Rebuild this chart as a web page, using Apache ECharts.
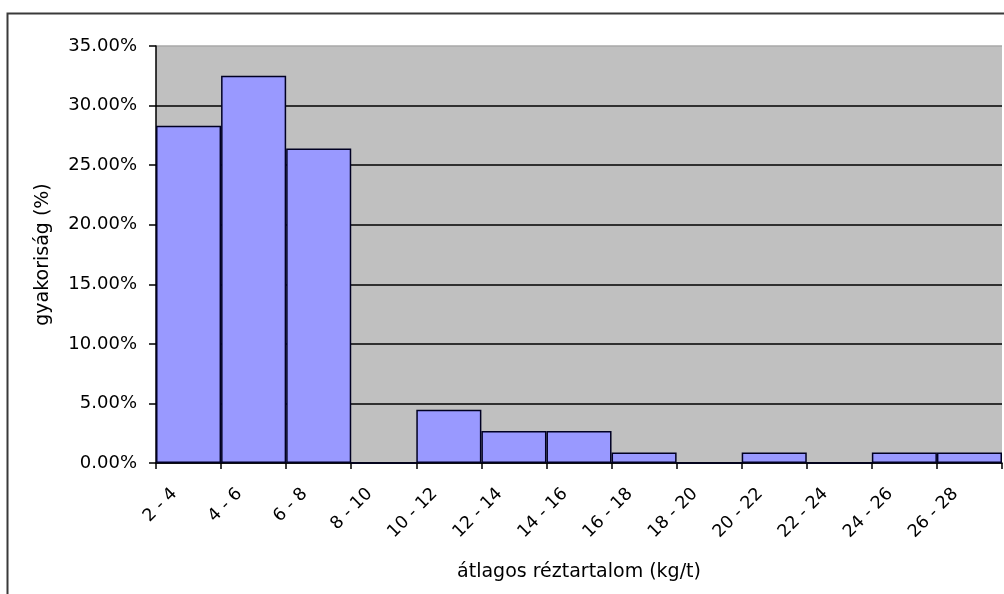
<!DOCTYPE html>
<html>
<head>
<meta charset="utf-8">
<script src="https://cdn.jsdelivr.net/npm/echarts@6/dist/echarts.min.js"></script>
<style>
html,body{margin:0;padding:0;background:#fff;}
#chart{width:1004px;height:594px;}
</style>
</head>
<body>
<div id="chart"></div>
<script>
const categories = ['2 - 4','4 - 6','6 - 8','8 - 10','10 - 12','12 - 14','14 - 16','16 - 18','18 - 20','20 - 22','22 - 24','24 - 26','26 - 28'];
const frequency = [28.30, 32.50, 26.40, 0, 4.46, 2.68, 2.68, 0.89, 0, 0.89, 0, 0.89, 0.89];
const yTicks = [0, 5, 10, 15, 20, 25, 30, 35];
const xTitle = 'átlagos réztartalom (kg/t)';
const yTitle = 'gyakoriság (%)';

const FONT = 'DejaVu Sans';
const chart = echarts.init(document.getElementById('chart'), null, {renderer: 'canvas'});
chart.setOption({
  animation: false,
  backgroundColor: '#ffffff',
  graphic: [{
    type: 'rect',
    shape: {x: 7.5, y: 13.5, width: 1010, height: 600},
    style: {fill: 'none', stroke: '#3a3a3a', lineWidth: 2},
    z: -10
  }],
  grid: {
    left: 156, top: 46, right: 2, bottom: 131,
    show: true, backgroundColor: '#C0C0C0', borderWidth: 0
  },
  xAxis: {
    type: 'category',
    data: categories,
    boundaryGap: true,
    name: xTitle,
    nameLocation: 'middle',
    nameGap: 100,
    nameTextStyle: {fontFamily: FONT, fontSize: 19, color: '#000'},
    axisLine: {show: true, lineStyle: {color: '#000', width: 1.5}},
    axisTick: {show: true, length: 6, lineStyle: {color: '#000', width: 1.5}},
    axisLabel: {
      rotate: 45, interval: 0, margin: 14,
      padding: [0, 20, 0, 0],
      fontFamily: FONT, fontSize: 17.5, color: '#000'
    },
    splitLine: {show: false}
  },
  yAxis: {
    type: 'value',
    min: yTicks[0], max: yTicks[yTicks.length - 1], interval: 5,
    name: yTitle,
    nameLocation: 'middle',
    nameRotate: 90,
    nameGap: 103,
    nameTextStyle: {fontFamily: FONT, fontSize: 19, color: '#000'},
    axisLine: {show: true, lineStyle: {color: '#000', width: 1.5}},
    axisTick: {show: true, length: 7, lineStyle: {color: '#000', width: 1.5}},
    axisLabel: {
      margin: 19,
      fontFamily: FONT, fontSize: 18, color: '#000',
      formatter: v => v.toFixed(2) + '%'
    },
    splitLine: {
      show: true,
      lineStyle: {color: ['#000','#000','#000','#000','#000','#000','#000','#a8a8a8'], width: 1.5}
    }
  },
  series: [{
    type: 'bar',
    data: frequency,
    barCategoryGap: '0%',
    itemStyle: {color: '#9999FF', borderColor: '#000022', borderWidth: 1.5}
  }]
});
</script>
</body>
</html>
